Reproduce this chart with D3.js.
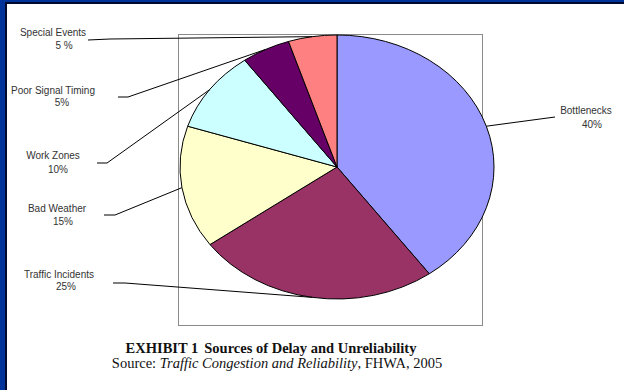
<!DOCTYPE html>
<html>
<head>
<meta charset="utf-8">
<script src="https://cdn.jsdelivr.net/npm/d3@7"></script>
<style>
  html, body { margin: 0; padding: 0; background: #fff; }
  svg { display: block; }
</style>
</head>
<body>
<svg id="chart" width="624" height="390"></svg>
<script>
// Sources of delay and unreliability (FHWA, 2005)
const categories = ["Bottlenecks", "Traffic Incidents", "Bad Weather", "Work Zones", "Poor Signal Timing", "Special Events"];
const shares = [40, 25, 15, 10, 5, 5];
const shareLabels = ["40%", "25%", "15%", "10%", "5%", "5 %"];
const sliceColors = ["#9999ff", "#993366", "#ffffcc", "#ccffff", "#660066", "#ff8080"];

const W = 624, H = 390;
const svg = d3.select("#chart");

// slide frame: navy band on the left and top, white panel
svg.append("rect").attr("x", 0).attr("y", 0).attr("width", W).attr("height", H).attr("fill", "#003399");
svg.append("rect").attr("x", 5).attr("y", 2).attr("width", W - 5).attr("height", H - 2).attr("fill", "#000a30");
svg.append("rect").attr("x", 7).attr("y", 4).attr("width", W - 7).attr("height", H - 4).attr("fill", "#ffffff");

// plot-area box
svg.append("rect")
  .attr("x", 178.5).attr("y", 34.5).attr("width", 304).attr("height", 291)
  .attr("fill", "none").attr("stroke", "#8a8a8a").attr("stroke-width", 1);

// pie: a circle stretched horizontally
const cx = 337, cy = 167, ry = 132, rx = 157;
const sx = rx / ry;

const pie = d3.pie().sort(null).value(d => d).startAngle(0).endAngle(2 * Math.PI);
const arcs = pie(shares);
const arc = d3.arc().innerRadius(0).outerRadius(ry);
const edge = d3.arc().innerRadius(ry).outerRadius(ry);

const pieG = svg.append("g").attr("transform", `translate(${cx},${cy}) scale(${sx},1)`);
pieG.selectAll("path.slice")
  .data(arcs)
  .join("path")
  .attr("class", "slice")
  .attr("d", arc)
  .attr("fill", (d, i) => sliceColors[i])
  .attr("stroke", "#000")
  .attr("stroke-width", 1)
  .attr("vector-effect", "non-scaling-stroke");

// label placement: name line center, baselines, leader start and elbow
const labelLayout = [
  { nx: 586, px: 592, ny: 114, py: 128, start: [555, 117], elbow: [555, 117] },
  { nx: 59,  px: 66,  ny: 278, py: 290, start: [113, 283], elbow: [125, 283] },
  { nx: 57,  px: 63,  ny: 212, py: 225, start: [104, 215], elbow: [115, 215] },
  { nx: 53,  px: 58,  ny: 159, py: 173, start: [97, 163],  elbow: [107, 163] },
  { nx: 53,  px: 62,  ny: 94,  py: 106, start: [118, 97],  elbow: [128, 97] },
  { nx: 53,  px: 64,  ny: 36,  py: 49,  start: [88, 40],   elbow: [110, 39] }
];

const line = d3.line();
arcs.forEach((d, i) => {
  const c = edge.centroid(d);
  const p = [cx + c[0] * sx, cy + c[1]];
  const L = labelLayout[i];
  svg.append("path")
    .attr("d", line([L.start, L.elbow, p]))
    .attr("fill", "none")
    .attr("stroke", "#000")
    .attr("stroke-width", 1);

  const t = svg.append("g")
    .attr("font-family", "'Liberation Sans', Arial, sans-serif")
    .attr("font-size", 10)
    .attr("fill", "#333")
    .attr("text-anchor", "middle");
  t.append("text").attr("x", L.nx).attr("y", L.ny).text(categories[i]);
  t.append("text").attr("x", L.px).attr("y", L.py).text(shareLabels[i]);
});

// caption
const cap = svg.append("g").attr("font-family", "'Liberation Serif', 'Times New Roman', serif").attr("fill", "#111");
const t1 = cap.append("text").attr("x", 271).attr("y", 353).attr("text-anchor", "middle")
  .attr("font-size", 14.5).attr("font-weight", "bold");
t1.append("tspan").text("EXHIBIT 1");
t1.append("tspan").attr("dx", 6).text("Sources of Delay and Unreliability");
const t2 = cap.append("text").attr("x", 277).attr("y", 368).attr("text-anchor", "middle").attr("font-size", 14.5);
t2.append("tspan").text("Source: ");
t2.append("tspan").attr("font-style", "italic").text("Traffic Congestion and Reliability");
t2.append("tspan").text(", FHWA, 2005");
</script>
</body>
</html>
